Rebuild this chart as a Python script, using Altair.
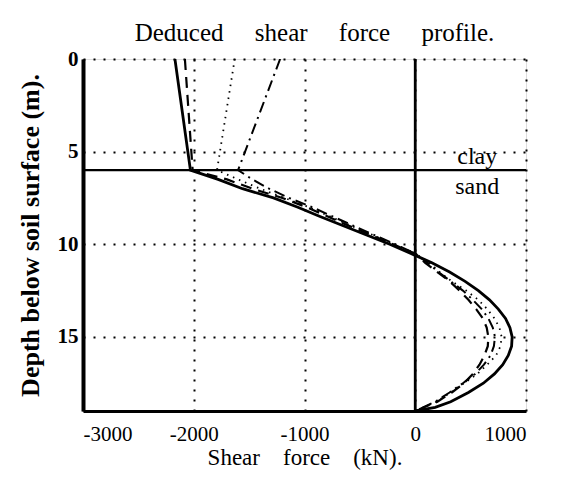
import altair as alt
import pandas as pd

# ---- data ----
solid_depth = [0, 6, 6.5, 7, 7.5, 8, 8.5, 9, 9.5, 10, 10.6, 11, 11.5, 12, 12.5, 13, 13.5, 14, 14.5, 15, 15.5, 16, 16.5, 17, 17.5, 18, 18.5, 18.8, 19]
solid_force = [-2170, -2030, -1780, -1560, -1280, -1060, -860, -650, -440, -230, 0, 150, 310, 450, 570, 670, 750, 815, 855, 875, 870, 840, 790, 715, 615, 480, 320, 180, 0]

dashed_depth = [0, 6, 6.5, 7, 7.5, 8, 9, 10, 10.5, 11, 11.5, 12, 12.5, 13, 13.5, 14, 14.5, 15, 15.5, 16, 16.5, 17, 17.5, 18, 18.5, 19]
dashed_force = [-2080, -2010, -1700, -1470, -1200, -980, -600, -200, 0, 90, 200, 310, 400, 480, 550, 610, 645, 660, 655, 625, 580, 520, 440, 330, 200, 0]

dotted_depth = [0, 6, 6.5, 7, 7.5, 8, 9, 10, 10.5, 11, 11.5, 12, 12.5, 13, 13.5, 14, 14.5, 15, 15.5, 16, 16.5, 17, 17.5, 18, 18.5, 19]
dotted_force = [-1630, -1790, -1600, -1400, -1180, -960, -580, -190, 0, 130, 220, 330, 460, 570, 650, 715, 760, 780, 770, 730, 650, 560, 440, 320, 190, 0]

dashdot_depth = [0, 6, 6.5, 7, 7.5, 8, 9, 10, 10.5, 11, 11.5, 12, 12.5, 13, 13.5, 14, 14.5, 15, 15.5, 16, 16.5, 17, 17.5, 18, 18.5, 19]
dashdot_force = [-1220, -1600, -1470, -1320, -1140, -930, -560, -180, 0, 110, 210, 320, 430, 520, 600, 660, 700, 720, 710, 680, 620, 540, 430, 310, 180, 0]

x_ticks = [-3000, -2000, -1000, 0, 1000]
y_ticks = [0, 5, 10, 15]
boundary_depth = [6]
zero_force = [0]
soil_labels = ["clay", "sand"]
soil_label_force = [560, 560]
soil_label_depth = [5.3, 6.9]

SERIF = "Liberation Serif"

rows = []
for name, d, f in [("solid", solid_depth, solid_force),
                   ("dashed", dashed_depth, dashed_force),
                   ("dotted", dotted_depth, dotted_force),
                   ("dashdot", dashdot_depth, dashdot_force)]:
    for i, (dd, ff) in enumerate(zip(d, f)):
        rows.append({"series": name, "idx": i, "depth": dd, "force": ff})
df = pd.DataFrame(rows)

xscale = alt.Scale(domain=[-3000, 1000], nice=False, zero=False)
yscale = alt.Scale(domain=[0, 19], reverse=True, nice=False, zero=False)

xaxis = alt.Axis(values=x_ticks, title="Shear\u00a0\u00a0\u00a0 force\u00a0\u00a0\u00a0 (kN).", ticks=False,
                 labelExpr="'' + datum.value",
                 labelFont=SERIF, labelFontSize=21, labelColor="black", labelPadding=12,
                 titleFont=SERIF, titleFontSize=23, titleFontWeight="normal", titleColor="black",
                 titlePadding=2, domainColor="black", domainWidth=3,
                 grid=True, gridColor="black", gridDash=[2, 8], gridWidth=2, gridOpacity=1)
yaxis = alt.Axis(values=y_ticks, title="Depth below soil surface (m).", ticks=False,
                 labelFont=SERIF, labelFontSize=21, labelFontWeight="bold", labelColor="black",
                 labelPadding=5, titleFont=SERIF, titleFontSize=26, titleFontWeight="bold",
                 titleColor="black", titlePadding=14, domainColor="black", domainWidth=4,
                 grid=True, gridColor="black", gridDash=[2, 8], gridWidth=2, gridOpacity=1)

base = alt.Chart(df)

def series_line(name, width, dash=None):
    kw = dict(color="black", strokeWidth=width, clip=True)
    if dash is not None:
        kw["strokeDash"] = dash
    return base.transform_filter(alt.datum.series == name).mark_line(**kw).encode(
        x=alt.X("force:Q", scale=xscale, axis=xaxis),
        y=alt.Y("depth:Q", scale=yscale, axis=yaxis),
        order="idx:Q",
    )

solid = series_line("solid", 2.8)
dashed = series_line("dashed", 2.2, [11, 7])
dotted = series_line("dotted", 1.8, [1.5, 5])
dashdot = series_line("dashdot", 2.0, [11, 5, 2, 5])

hrule = alt.Chart(pd.DataFrame({"depth": boundary_depth})).mark_rule(color="black", strokeWidth=2.2).encode(
    y=alt.Y("depth:Q", scale=yscale))
vrule = alt.Chart(pd.DataFrame({"force": zero_force})).mark_rule(color="black", strokeWidth=2.8).encode(
    x=alt.X("force:Q", scale=xscale))

labels = alt.Chart(pd.DataFrame({"t": soil_labels, "force": soil_label_force, "depth": soil_label_depth})).mark_text(
    font=SERIF, fontSize=24, color="black", align="center", baseline="middle").encode(
    x=alt.X("force:Q", scale=xscale), y=alt.Y("depth:Q", scale=yscale), text="t:N")

chart = alt.layer(hrule, vrule, dotted, dashdot, dashed, solid, labels).properties(
    width=443, height=352,
    title=alt.Title("Deduced\u00a0\u00a0\u00a0\u00a0 shear\u00a0\u00a0\u00a0\u00a0 force\u00a0\u00a0\u00a0\u00a0 profile.",
                    font=SERIF, fontSize=25, fontWeight="normal", color="black", offset=2, dx=10),
    padding={"left": 9, "top": 13, "right": 5, "bottom": 5},
).configure_view(stroke="black", strokeWidth=2.5).configure(background="white")

chart.save("out.html", embed_options={"renderer": "svg", "actions": False})
